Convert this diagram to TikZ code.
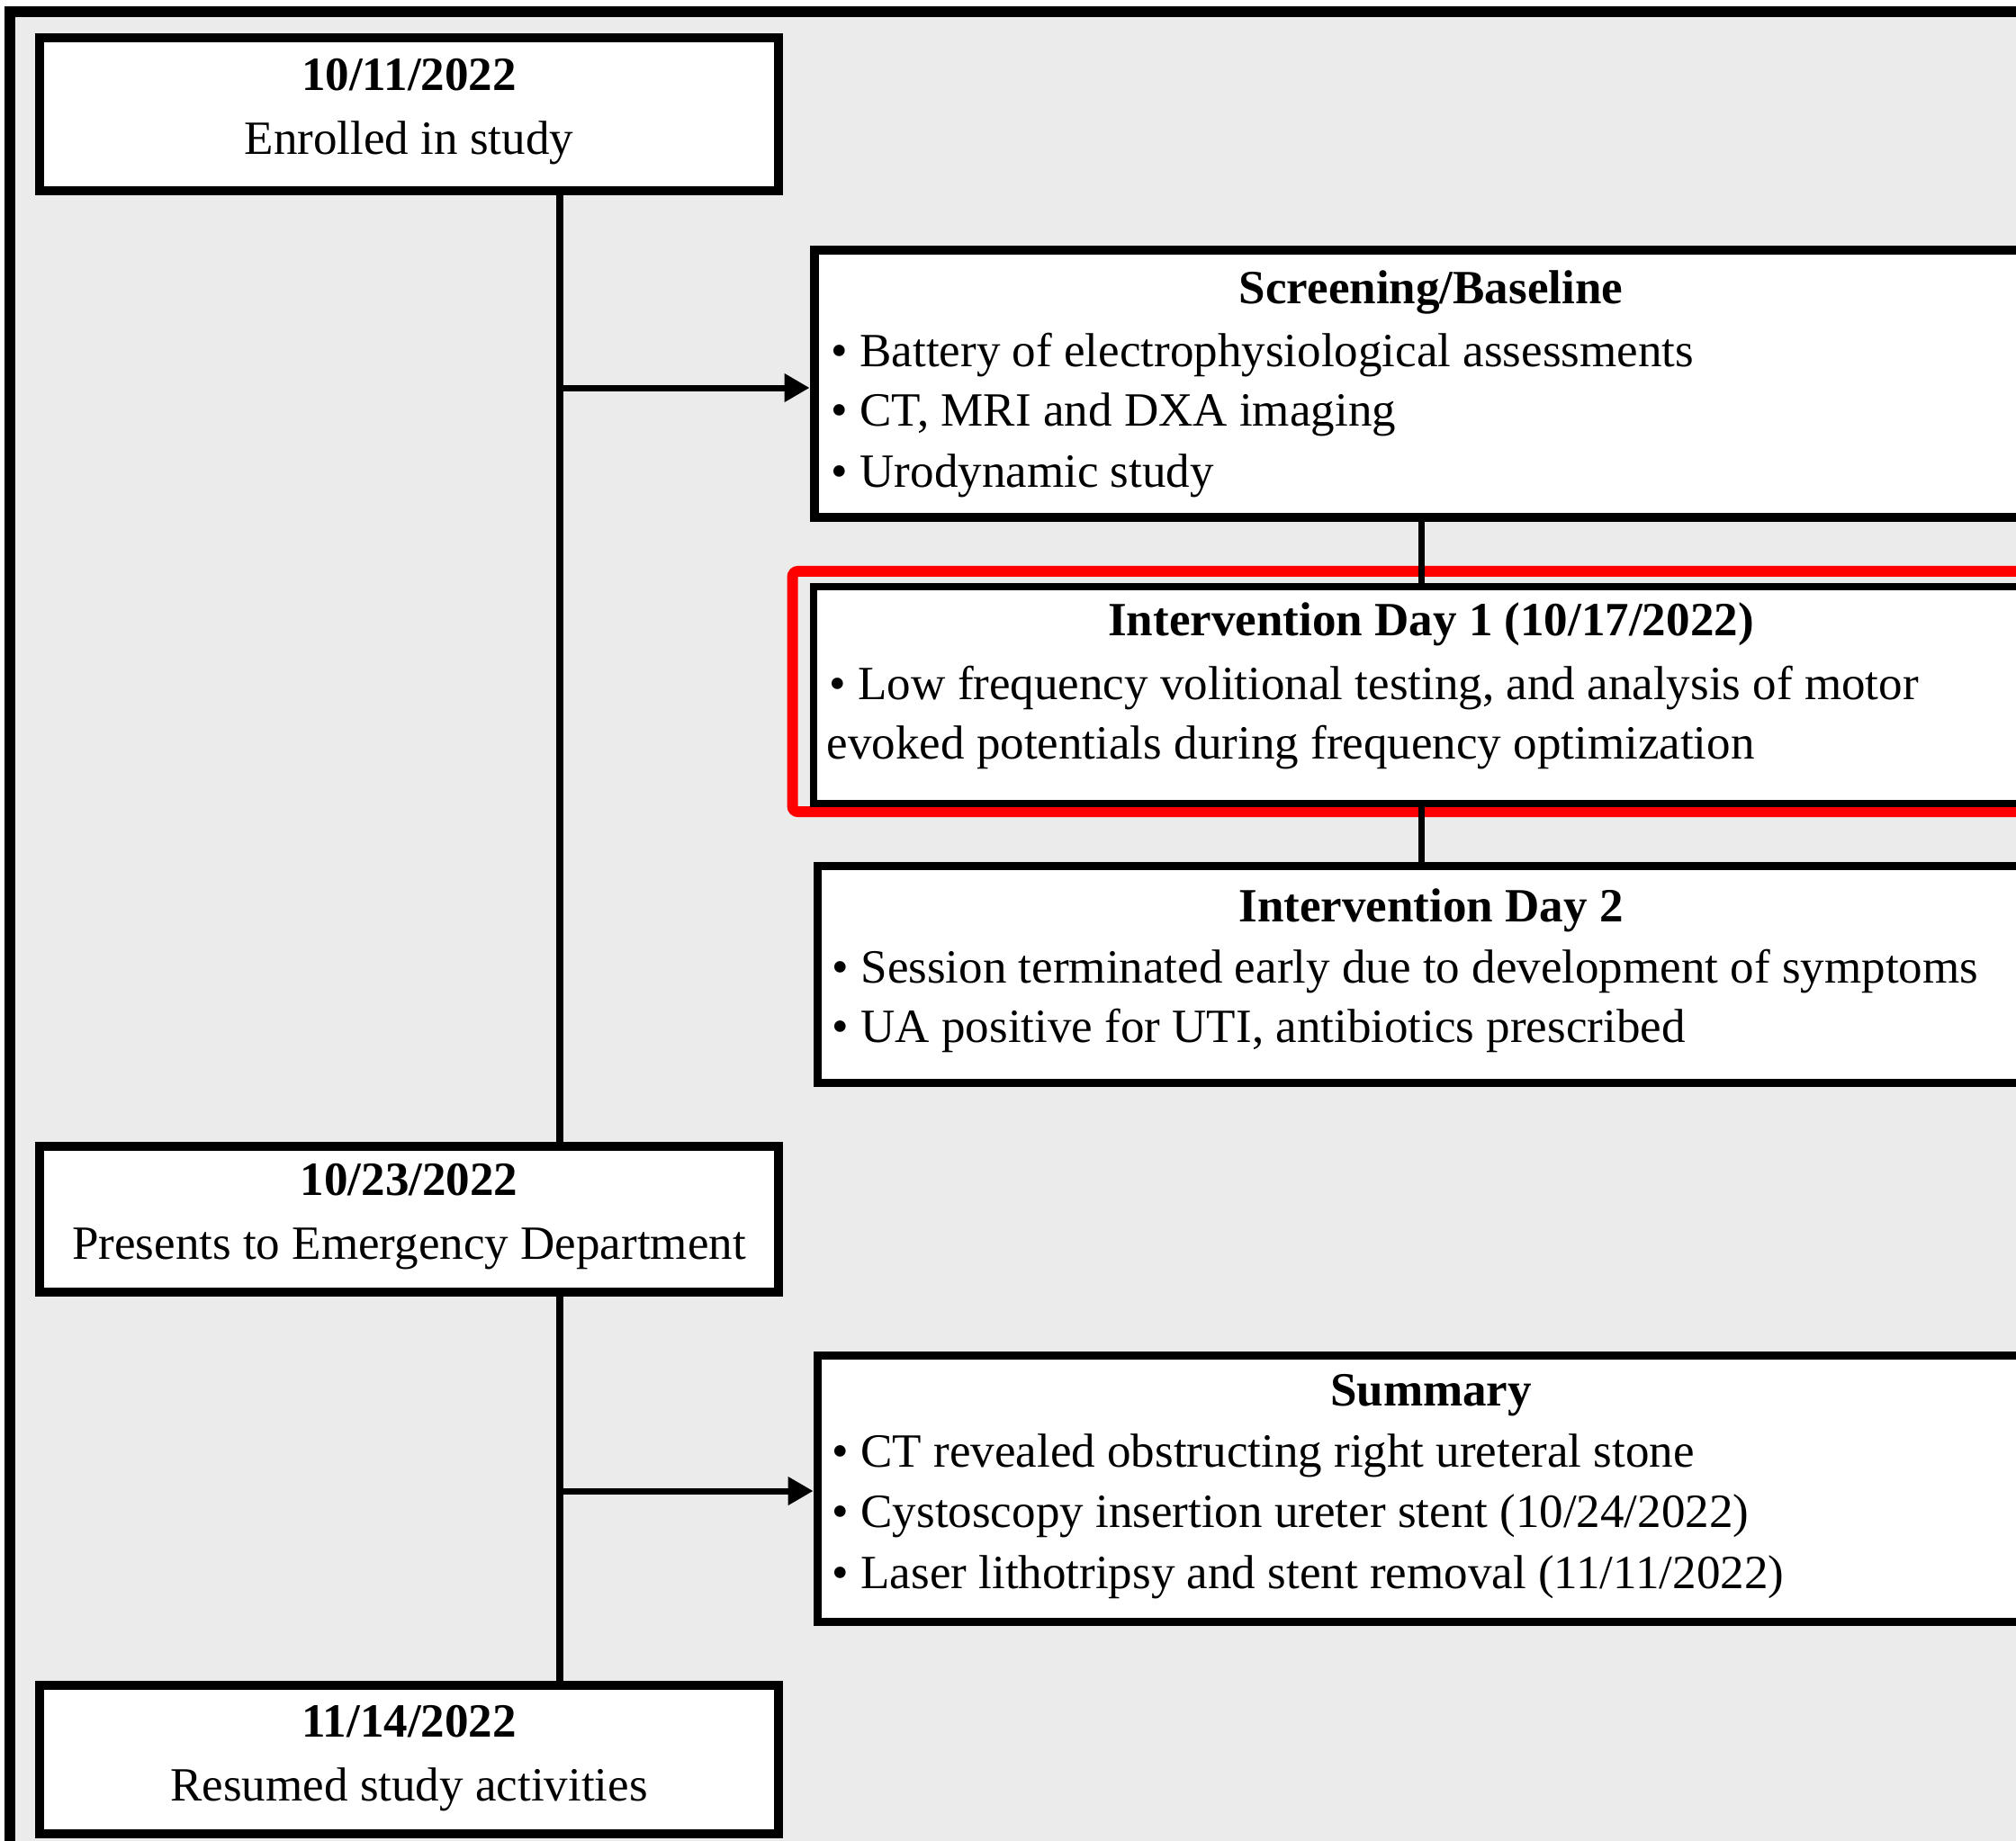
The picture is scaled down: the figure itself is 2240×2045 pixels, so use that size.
\documentclass[tikz,border=0pt]{standalone}
\usepackage{fontspec}
\setmainfont{Liberation Serif}
\usetikzlibrary{arrows.meta}
\definecolor{bg}{RGB}{235,235,235}
\definecolor{hilite}{RGB}{255,0,0}
\begin{document}
\begin{tikzpicture}[x=0.01cm,y=-0.01cm,
  box/.style={draw=black, fill=white, rectangle, inner sep=0pt},
  txt/.style={inner sep=0pt, font=\fontsize{15.08pt}{18pt}\selectfont},
  ttl/.style={inner sep=0pt, font=\fontsize{15.08pt}{18pt}\selectfont\bfseries, anchor=base},
  ctr/.style={txt, anchor=base},
  bl/.style={txt, anchor=base west},
  link/.style={draw=black, line width=0.07cm},
  arr/.style={link, -{Triangle[length=0.28cm,width=0.30cm]}}
]
\useasboundingbox (0,0) rectangle (2240,2045);
\clip (0,0) rectangle (2240,2045);
% background and frame
\fill[white] (0,0) rectangle (2240,2045);
\fill[bg] (11,13) rectangle (2300,2100);
\draw[line width=0.12cm, miter limit=10] (11,2100) -- (11,13) -- (2300,13);

% left column boxes
\node[box, line width=0.10cm, minimum width=8.21cm, minimum height=1.70cm] (enr) at (454.5,127) {};
\node[box, line width=0.10cm, minimum width=8.21cm, minimum height=1.62cm] (ed) at (454.5,1355) {};
\node[box, line width=0.10cm, minimum width=8.21cm, minimum height=1.65cm] (res) at (454.5,1955.5) {};

% right column boxes
\node[box, line width=0.10cm, minimum width=13.48cm, minimum height=2.97cm] (scr) at (1579,426.5) {};
\node[draw=hilite, rectangle, rounded corners=0.06cm, line width=0.12cm, minimum width=13.96cm, minimum height=2.67cm] (hl) at (1579,768.5) {};
\node[box, line width=0.08cm, minimum width=13.50cm, minimum height=2.41cm] (d1) at (1579,772.5) {};
\node[box, line width=0.09cm, minimum width=13.41cm, minimum height=2.41cm] (d2) at (1579,1083) {};
\node[box, line width=0.09cm, minimum width=13.41cm, minimum height=2.96cm] (sum) at (1579,1654.5) {};

% connectors
\coordinate (spine) at (621.5,0);
\coordinate (a1) at (621.5,431);
\coordinate (a2) at (621.5,1657);
\draw[link, line width=0.08cm] (enr.south -| spine) -- (ed.north -| spine);
\draw[link, line width=0.08cm] (ed.south -| spine) -- (res.north -| spine);
\draw[arr] (a1) -- (a1 -| scr.west);
\draw[arr] (a2) -- (a2 -| sum.west);
\draw[link] (scr.south) -- (d1.north);
\draw[link] (d1.south) -- (d2.north);

% left texts
\node[ttl] (t1a) at (454.5,100) {10/11/2022};
\node[ctr] (t1b) at (454.5,171) {Enrolled in study};
\node[ttl] (t2a) at (454.5,1328) {10/23/2022};
\node[ctr] (t2b) at (454.5,1399) {Presents to Emergency Department};
\node[ttl] (t3a) at (454.5,1930) {11/14/2022};
\node[ctr] (t3b) at (454.5,2001) {Resumed study activities};

% screening texts
\node[ttl] (s0) at (1590,337) {Screening/Baseline};
\node[bl] (s1) at (923,407) {\textbullet\ Battery of electrophysiological assessments};
\node[bl] (s2) at (923,473) {\textbullet\ CT, MRI and DXA imaging};
\node[bl] (s3) at (923,541) {\textbullet\ Urodynamic study};

% day 1 texts
\node[ttl] (i0) at (1590,706) {Intervention Day 1 (10/17/2022)};
\node[bl] (i1) at (921,777) {\textbullet\ Low frequency volitional testing, and analysis of motor};
\node[bl] (i2) at (918,843) {evoked potentials during frequency optimization};

% day 2 texts
\node[ttl] (j0) at (1590,1024) {Intervention Day 2};
\node[bl] (j1) at (924,1092) {\textbullet\ Session terminated early due to development of symptoms};
\node[bl] (j2) at (924,1158) {\textbullet\ UA positive for UTI, antibiotics prescribed};

% summary texts
\node[ttl] (k0) at (1590,1562) {Summary};
\node[bl] (k1) at (924,1630) {\textbullet\ CT revealed obstructing right ureteral stone};
\node[bl] (k2) at (924,1697) {\textbullet\ Cystoscopy insertion ureter stent (10/24/2022)};
\node[bl] (k3) at (924,1765) {\textbullet\ Laser lithotripsy and stent removal (11/11/2022)};
\end{tikzpicture}
\end{document}
